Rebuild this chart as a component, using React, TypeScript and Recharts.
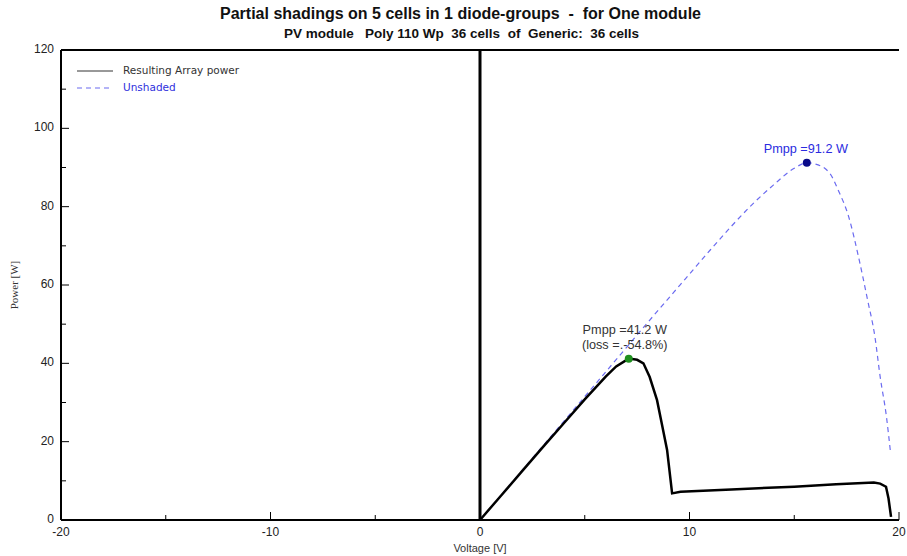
import * as React from "react";
import {
  LineChart,
  Line,
  XAxis,
  YAxis,
  ReferenceLine,
  ReferenceDot,
} from "recharts";

// Resulting array power (shaded), black
const shadedVoltage = [0, 1, 2, 3, 4, 5, 6, 6.5, 7.1, 7.5, 7.8, 8.1, 8.45, 8.7, 8.93, 9.17, 9.57, 12, 15, 17, 18.8, 19.1, 19.38, 19.5, 19.62];
const shadedPower = [0, 6.2, 12.4, 18.6, 24.7, 30.8, 36.6, 39.2, 41.2, 40.9, 40.0, 36.5, 30.6, 24, 17.9, 6.8, 7.2, 7.8, 8.5, 9.1, 9.6, 9.3, 8.5, 5.5, 0.8];

// Unshaded module, blue dashed
const unshadedVoltage = [0, 1, 2, 3, 4, 5, 6, 7, 8, 9, 10, 11, 12, 13, 14, 15, 15.6, 16, 16.7, 17.1, 17.6, 18.1, 18.5, 18.85, 19.1, 19.4, 19.6];
const unshadedPower = [0, 6.3, 12.6, 18.9, 25.2, 31.5, 37.8, 44.1, 50.4, 56.6, 62.8, 69, 75, 80.6, 85.5, 89.8, 91.2, 90.9, 88.5, 84.2, 77.4, 66.4, 56.2, 46.8, 36.6, 26.4, 17];

const xTicks = [-20, -15, -10, -5, 0, 5, 10, 15, 20];
const yTicks = [0, 10, 20, 30, 40, 50, 60, 70, 80, 90, 100, 110, 120];

const mppUnshaded = { v: 15.6, p: 91.2 };
const mppShaded = { v: 7.1, p: 41.2 };

const shadedData = shadedVoltage.map((v, i) => ({ v, p: shadedPower[i] }));
const unshadedData = unshadedVoltage.map((v, i) => ({ v, p: unshadedPower[i] }));

const FONT = "'Liberation Sans', Arial, sans-serif";
const BLUE = "#6b6bf0";

const XTick = (props: any) => {
  const { x, y, payload } = props;
  const major = payload.value % 10 === 0;
  return (
    <g>
      <line x1={x} y1={y} x2={x} y2={y - (major ? 8 : 5)} stroke="#000" strokeWidth={1} />
      {major && (
        <text x={x} y={y + 16} textAnchor="middle" fontSize={12} fontFamily={FONT} fill="#222">
          {payload.value}
        </text>
      )}
    </g>
  );
};

const YTick = (props: any) => {
  const { x, y, payload } = props;
  const major = payload.value % 20 === 0;
  return (
    <g>
      <line x1={x} y1={y} x2={x + (major ? 8 : 5)} y2={y} stroke="#000" strokeWidth={1} />
      {major && (
        <text x={x - 7} y={y + 3} textAnchor="end" fontSize={12} fontFamily={FONT} fill="#222">
          {payload.value}
        </text>
      )}
    </g>
  );
};

const RightTick = (props: any) => {
  const { x, y, payload } = props;
  const major = payload.value % 20 === 0;
  return <line x1={x} y1={y} x2={x - (major ? 8 : 5)} y2={y} stroke="#000" strokeWidth={1} />;
};

const ShadedLabel = (props: any) => {
  const { viewBox } = props;
  const cx = viewBox.cx ?? viewBox.x;
  const cy = viewBox.cy ?? viewBox.y;
  return (
    <g fontFamily={FONT} fontSize={12.7} fill="#333" textAnchor="middle">
      <text x={cx} y={cy - 21}>Pmpp =41.2 W</text>
      <text x={cx} y={cy - 6}>(loss =.-54.8%)</text>
    </g>
  );
};

const UnshadedLabel = (props: any) => {
  const { viewBox } = props;
  const cx = viewBox.cx ?? viewBox.x;
  const cy = viewBox.cy ?? viewBox.y;
  return (
    <text x={cx + 3} y={cy - 6} fontFamily={FONT} fontSize={12.7} fill="#2b2be0" textAnchor="middle">
      Pmpp =91.2 W
    </text>
  );
};

const PowerLabel = (props: any) => {
  const { viewBox } = props;
  const x = 18;
  const y = viewBox.y + viewBox.height / 2;
  return (
    <text
      x={x}
      y={y}
      transform={`rotate(-90 ${x} ${y})`}
      textAnchor="middle"
      fontSize={11}
      fontFamily="'Liberation Serif', 'Times New Roman', serif"
      fill="#333"
    >
      Power [W]
    </text>
  );
};

export default function App() {
  return (
    <div style={{ position: "relative", width: 907, height: 556, background: "#fff" }}>
      <style>{"body{margin:0}"}</style>
      <div
        style={{
          position: "absolute",
          top: 5,
          left: 7,
          width: 907,
          textAlign: "center",
          fontFamily: FONT,
          fontWeight: "bold",
          fontSize: 16,
          color: "#111",
        }}
      >
        Partial shadings on 5 cells in 1 diode-groups&nbsp; -&nbsp; for One module
      </div>
      <div
        style={{
          position: "absolute",
          top: 26,
          left: 8,
          width: 907,
          textAlign: "center",
          fontFamily: FONT,
          fontWeight: "bold",
          fontSize: 13.5,
          color: "#111",
        }}
      >
        PV module&nbsp;&nbsp; Poly 110 Wp&nbsp; 36 cells&nbsp; of&nbsp; Generic:&nbsp; 36 cells
      </div>
      <div
        style={{
          position: "absolute",
          top: 62,
          left: 76,
          fontFamily: "'DejaVu Sans', Verdana, sans-serif",
          fontSize: 10.5,
          lineHeight: "17px",
        }}
      >
        <div style={{ display: "flex", alignItems: "center" }}>
          <svg width={38} height={8}>
            <line x1={1} y1={4} x2={37} y2={4} stroke="#333" strokeWidth={1} />
          </svg>
          <span style={{ marginLeft: 9, color: "#333" }}>Resulting Array power</span>
        </div>
        <div style={{ display: "flex", alignItems: "center" }}>
          <svg width={38} height={8}>
            <line x1={1} y1={4} x2={37} y2={4} stroke={BLUE} strokeWidth={1.2} strokeDasharray="5 4" />
          </svg>
          <span style={{ marginLeft: 9, color: "#3030dd" }}>Unshaded</span>
        </div>
      </div>
      <LineChart width={907} height={556} margin={{ top: 50, right: 8, left: 0, bottom: 0 }}>
        <XAxis
          type="number"
          dataKey="v"
          domain={[-20, 20]}
          ticks={xTicks}
          interval={0}
          allowDataOverflow
          tickLine={false}
          tickSize={0}
          tickMargin={0}
          tick={<XTick />}
          height={36}
          axisLine={{ stroke: "#000", strokeWidth: 2 }}
          label={{ value: "Voltage [V]", position: "insideBottom", offset: 4, fontSize: 11, fontFamily: FONT, fill: "#333" }}
        />
        <YAxis
          yAxisId="l"
          type="number"
          dataKey="p"
          domain={[0, 120]}
          ticks={yTicks}
          interval={0}
          allowDataOverflow
          tickLine={false}
          tickSize={0}
          tickMargin={0}
          tick={<YTick />}
          width={61}
          axisLine={{ stroke: "#000", strokeWidth: 2 }}
          label={<PowerLabel />}
        />
        <YAxis
          yAxisId="r"
          orientation="right"
          type="number"
          domain={[0, 120]}
          ticks={yTicks}
          interval={0}
          allowDataOverflow
          tickLine={false}
          tickSize={0}
          tickMargin={0}
          tick={<RightTick />}
          width={0}
          axisLine={{ stroke: "#000", strokeWidth: 2 }}
        />
        <ReferenceLine yAxisId="l" y={120} stroke="#000" strokeWidth={2} />
        <ReferenceLine yAxisId="l" x={0} stroke="#000" strokeWidth={3} />
        <Line
          yAxisId="l"
          data={unshadedData}
          dataKey="p"
          type="monotone"
          stroke={BLUE}
          strokeWidth={1.2}
          strokeDasharray="5 4"
          dot={false}
          isAnimationActive={false}
        />
        <Line
          yAxisId="l"
          data={shadedData}
          dataKey="p"
          type="linear"
          stroke="#000"
          strokeWidth={2.5}
          dot={false}
          isAnimationActive={false}
        />
        <ReferenceDot
          yAxisId="l"
          x={mppUnshaded.v}
          y={mppUnshaded.p}
          r={4}
          fill="#0a0a8a"
          stroke="none"
          label={<UnshadedLabel />}
        />
        <ReferenceDot
          yAxisId="l"
          x={mppShaded.v}
          y={mppShaded.p}
          r={4}
          fill="#1f8f1f"
          stroke="none"
          label={<ShadedLabel />}
        />
      </LineChart>
    </div>
  );
}
